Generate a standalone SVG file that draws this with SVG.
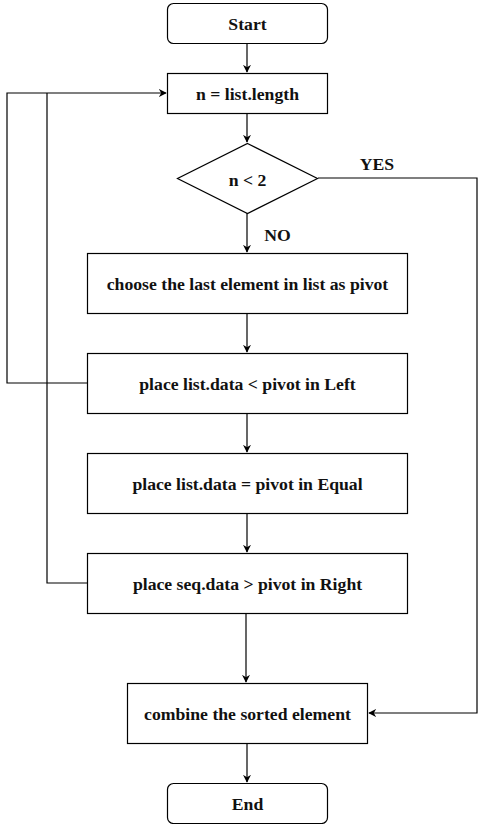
<svg xmlns="http://www.w3.org/2000/svg" width="486" height="824" viewBox="0 0 486 824">
<style>
.n{fill:#fff;stroke:#000;stroke-width:1.2}
.t{font-family:'Liberation Serif','Times New Roman',serif;font-weight:bold;font-size:17.7px;fill:#111;text-anchor:middle;dominant-baseline:central}
.c{fill:none;stroke:#000;stroke-width:1.2}
</style>
<defs>
<marker id="a" viewBox="0 0 10 10" refX="9" refY="5" markerWidth="8" markerHeight="8" markerUnits="userSpaceOnUse" orient="auto">
<path d="M0,0 L10,5 L0,10 L3,5 Z" fill="#000"/>
</marker>
</defs>
<rect width="486" height="824" fill="#fff"/>
<g id="connectors">
<path class="c" d="M247,43 V72" marker-end="url(#a)"/>
<path class="c" d="M247,113 V142" marker-end="url(#a)"/>
<path class="c" d="M247,213 V252" marker-end="url(#a)"/>
<path class="c" d="M247,313 V352" marker-end="url(#a)"/>
<path class="c" d="M247,413 V452" marker-end="url(#a)"/>
<path class="c" d="M247,513 V552" marker-end="url(#a)"/>
<path class="c" d="M246,613 V682" marker-end="url(#a)"/>
<path class="c" d="M247,743 V782" marker-end="url(#a)"/>
<path class="c" d="M318,178 H477 V713 H369" marker-end="url(#a)"/>
<path class="c" d="M87,383 H7 V93 H166" marker-end="url(#a)"/>
<path class="c" d="M87,583 H47 V93"/>
<text class="t" x="377" y="164">YES</text>
<text class="t" x="277.5" y="235">NO</text>
</g>
<g id="start"><rect class="n" x="167.5" y="3.5" width="160" height="40" rx="6"/><text class="t" x="247.5" y="24">Start</text></g>
<g id="init"><rect class="n" x="167.5" y="73.5" width="160" height="40"/><text class="t" x="247.5" y="94">n = list.length</text></g>
<g id="cond"><polygon class="n" points="247.5,143.5 317.5,178.5 247.5,213.5 177.5,178.5"/><text class="t" x="247.5" y="180">n &lt; 2</text></g>
<g id="pivot"><rect class="n" x="87.5" y="253.5" width="320" height="60"/><text class="t" x="247.5" y="284">choose the last element in list as pivot</text></g>
<g id="left"><rect class="n" x="87.5" y="353.5" width="320" height="60"/><text class="t" x="247.5" y="384">place list.data &lt; pivot in Left</text></g>
<g id="equal"><rect class="n" x="87.5" y="453.5" width="320" height="60"/><text class="t" x="247.5" y="484">place list.data = pivot in Equal</text></g>
<g id="right"><rect class="n" x="87.5" y="553.5" width="320" height="60"/><text class="t" x="247.5" y="584">place seq.data &gt; pivot in Right</text></g>
<g id="combine"><rect class="n" x="127.5" y="683.5" width="240" height="60"/><text class="t" x="247.5" y="714">combine the sorted element</text></g>
<g id="end"><rect class="n" x="167.5" y="783.5" width="160" height="40" rx="6"/><text class="t" x="247.5" y="804">End</text></g>
</svg>
